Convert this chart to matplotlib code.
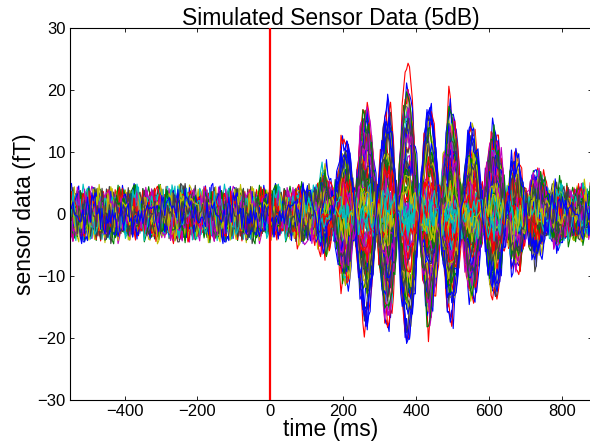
import numpy as np
import matplotlib
matplotlib.use('Agg')
import matplotlib.pyplot as plt

# extrema of the evoked burst for a unit-gain sensor (ms, fT)
burst_times = [40, 100, 150, 207, 263, 323, 377, 436, 496, 553, 614, 672, 730, 790, 850, 900]
burst_amps = [0.0, -2.0, 5.5, -11.5, 17.5, -18.0, 21.0, -17.5, 17.0, -13.5, 13.0, -8.0, 5.5, -3.0, 1.5, 0.0]

# gain of each sensor for the burst (sign = which side of the dipole)
sensor_gains = [-0.95, 0.62, 1.00, 0.15, -0.48, 0.71, 0.05,
                0.88, -0.26, -0.92, 0.27, 0.12, -0.74, 0.41,
                -0.13, 0.79, 0.44, -0.08, 0.68, 0.22, -0.21,
                0.93, 0.02, -0.40, 0.52, -0.33, 0.76, -0.85,
                -0.17, -0.60, 0.36, -0.05, 0.31, -0.70, 0.10,
                0.64, 0.18, -0.52, 0.73, 0.20, -0.25, 0.30,
                -0.78, 0.07, 0.84, -0.15, -0.36, 0.49, -0.02,
                0.40, -0.68, -0.30, 0.12, 0.86, -0.10, 0.35,
                -0.60, 0.25, 0.55, -0.12, 0.08, 0.66, -0.42,
                0.77, -0.50, 0.18, 0.03, -0.28, -0.55, 0.45,
                -0.88, 0.23, -0.38, 0.05, 0.74, 0.14, -0.65,
                0.50, 0.83, -0.18, -0.07, 0.60, 0.22, 0.69,
                -0.90]

# hand typed background noise values (fT), reused in a different order per sensor
noise_values = [0.42, -1.13, 0.87, 1.65, -0.31, -2.05, 0.12, 1.21, -0.74, 0.58,
                -1.47, 0.95, 2.90, -0.66, -0.09, 1.38, -1.82, 0.27, -0.53, 1.04,
                -1.21, 0.71, -0.18, -1.59, 1.87, 0.36, -0.94, 0.05, 1.52, -2.80,
                0.83, -0.41, 1.12, -1.05, 0.19, 0.64, -1.73, 2.45, -0.28, -0.87,
                1.33, -0.12, 0.49, -1.36, 0.98, -0.59, 1.76, -1.94, 0.24, 0.77,
                -0.45, 1.19, -1.28, 0.03, 1.61, -0.79, -1.51, 0.91, 0.33, -0.21,
                2.70, -1.02, 0.56, -0.36, 1.45, -1.68, 0.14, -0.63, 1.08, -2.60,
                0.68, 0.21, -1.17, 1.83, -0.52, 0.39, -0.97, 1.27, -0.07, -1.41,
                0.89, 1.54, -0.83, 0.29, -1.62, 0.61, -0.24, 1.15, -2.35, 0.47,
                1.96, -0.71, -0.15, 1.01, -1.33, 0.74, -0.49]
noise_level = 2.0

xticks = [-400, -200, 0, 200, 400, 600, 800]
yticks = [-30, -20, -10, 0, 10, 20, 30]

# old matlab line colour order
colors = [(0, 0, 1), (0, 0.5, 0), (1, 0, 0), (0, 0.75, 0.75),
          (0.75, 0, 0.75), (0.75, 0.75, 0), (0.25, 0.25, 0.25)]

time = np.arange(-550, 886, 4)


def burst(t):
    # half cosine between neighbouring extrema
    out = np.zeros_like(t, dtype=float)
    for k in range(len(burst_times) - 1):
        t0, t1 = burst_times[k], burst_times[k + 1]
        a0, a1 = burst_amps[k], burst_amps[k + 1]
        m = (t >= t0) & (t < t1)
        ph = np.pi * (t[m] - t0) / (t1 - t0)
        out[m] = (a0 + a1) / 2 + (a0 - a1) / 2 * np.cos(ph)
    return out


signal = burst(time)
base = np.array(noise_values)
n = len(base)
j = np.arange(len(time))

data = []
for i, g in enumerate(sensor_gains):
    a = (i * 37) % (n - 1) + 1
    c = (i * 53) % n
    nz = base[(a * j + c) % n]
    nz = np.convolve(nz, [0.15, 0.7, 0.15], mode='same')
    data.append(g * signal + noise_level * nz)

plt.rcParams['font.family'] = ['Liberation Sans', 'DejaVu Sans']

fig = plt.figure(figsize=(5.9, 4.44), dpi=100)
ax = fig.add_axes([70 / 590, 1 - 400 / 444, 522 / 590, 372 / 444])

for i, trace in enumerate(data):
    ax.plot(time, trace, color=colors[i % len(colors)], lw=0.8)

ax.axvline(0, color='r', lw=1.6, zorder=5)

ax.set_xlim(-550, 883)
ax.set_ylim(-30, 30)
ax.set_xticks(xticks)
ax.set_yticks(yticks)
ax.tick_params(direction='in', top=True, right=True, length=3, width=0.6,
               labelsize=12, pad=3)
for s in ax.spines.values():
    s.set_linewidth(0.8)

ax.set_title('Simulated Sensor Data (5dB)', fontsize=16.5, pad=2)
ax.set_xlabel('time (ms)', fontsize=16.5)
ax.set_ylabel('sensor data (fT)', fontsize=16.5)
ax.xaxis.set_label_coords(0.5, -0.048)
ax.yaxis.set_label_coords(-0.066, 0.5)

fig.savefig('out.png', dpi=100)
